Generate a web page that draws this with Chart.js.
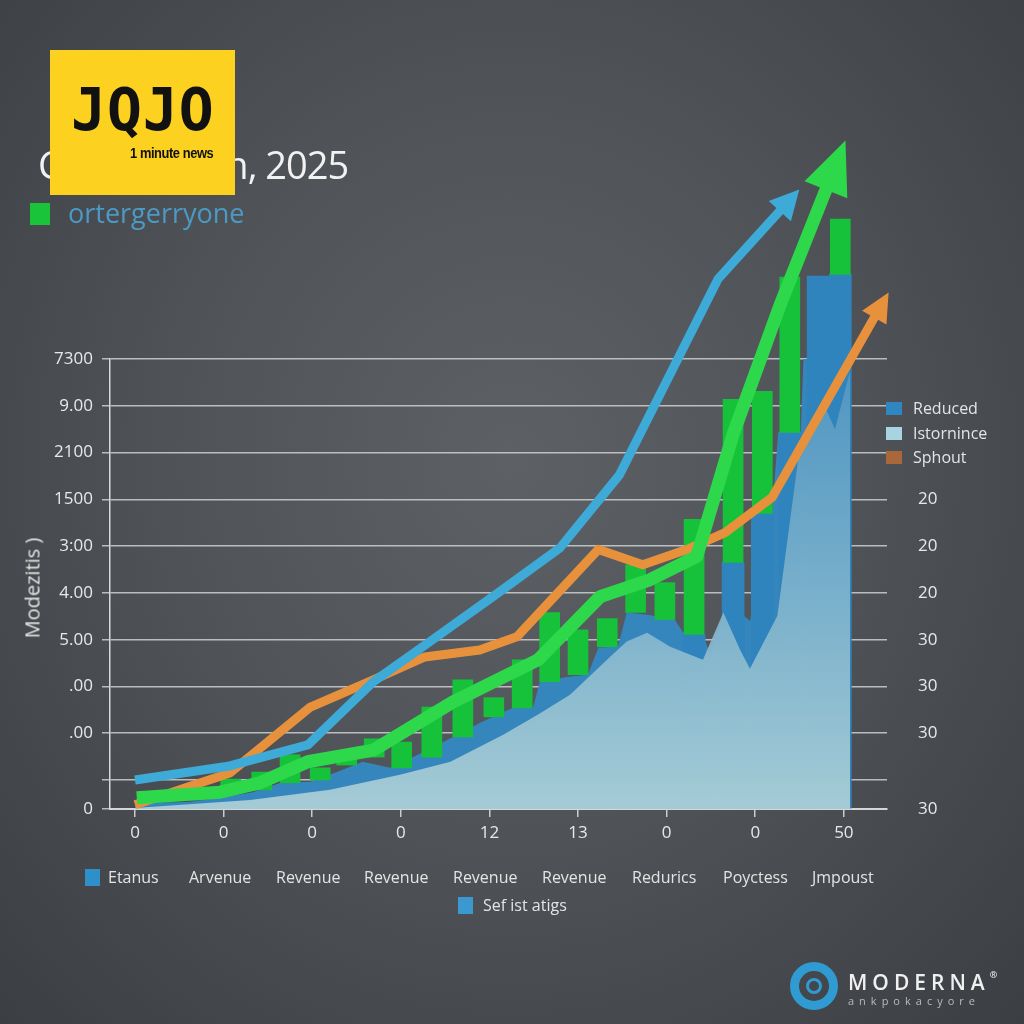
<!DOCTYPE html>
<html>
<head>
<meta charset="utf-8">
<script src="https://cdn.jsdelivr.net/npm/chart.js@4.4.1/dist/chart.umd.min.js"></script>
<style>
  html, body { margin: 0; padding: 0; }
  body {
    width: 1024px; height: 1024px; overflow: hidden; position: relative;
    background: radial-gradient(ellipse at 50% 45%, #5d6165 0%, #505458 45%, #3b3e42 100%);
    font-family: 'Open Sans', sans-serif; color: #e6e6e6;
  }
  canvas { position: absolute; left: 0; top: 0; }
  .abs { position: absolute; white-space: nowrap; }
  .sw { position: absolute; }
  .leg { position: absolute; font-size: 16px; color: #e4e4e4; line-height: 20px; white-space: nowrap; }
</style>
</head>
<body>
<canvas id="chart" width="1024" height="1024"></canvas>

<div class="abs" style="left:38px; top:142px; font-size:38px; color:#f2f2f2; line-height:44px; letter-spacing:-1px;">Cost Growth, 2025</div>

<div class="abs" style="left:50px; top:50px; width:185px; height:145px; background:#fcd11f;">
  <div class="abs" style="left:21px; top:27px; font-family:'DejaVu Sans Mono'; font-weight:bold; font-size:58px; line-height:66px; color:#111; letter-spacing:1px;">JQJO</div>
  <div class="abs" style="left:80px; top:94px; font-family:'Liberation Sans'; font-weight:bold; font-size:15px; color:#111; letter-spacing:-0.5px; transform:scaleX(0.86); transform-origin:left top;">1 minute news</div>
</div>

<div class="sw" style="left:30px; top:203px; width:20px; height:22px; background:#19c43a;"></div>
<div class="abs" style="left:68px; top:195px; font-size:27px; line-height:36px; color:#4b9ac6;">ortergerryone</div>

<div class="abs" style="left:32px; top:588px; font-size:20px; color:#e4e4e4; transform:translate(-50%,-50%) rotate(-90deg);">Modezitis )</div>

<div class="sw" style="left:886px; top:402px; width:16px; height:13px; background:#2f86c0;"></div>
<div class="leg" style="left:913px; top:398px;">Reduced</div>
<div class="sw" style="left:886px; top:427px; width:16px; height:13px; background:#a8d4e0;"></div>
<div class="leg" style="left:913px; top:423px;">Istornince</div>
<div class="sw" style="left:886px; top:451px; width:16px; height:13px; background:#a8683c;"></div>
<div class="leg" style="left:913px; top:447px;">Sphout</div>

<div class="sw" style="left:85px; top:869px; width:15px; height:17px; background:#2f8fc8;"></div>
<div class="leg" style="left:108px; top:867px;">Etanus</div>
<div class="leg" style="left:189px; top:867px;">Arvenue</div>
<div class="leg" style="left:276px; top:867px;">Revenue</div>
<div class="leg" style="left:364px; top:867px;">Revenue</div>
<div class="leg" style="left:453px; top:867px;">Revenue</div>
<div class="leg" style="left:542px; top:867px;">Revenue</div>
<div class="leg" style="left:632px; top:867px;">Redurics</div>
<div class="leg" style="left:723px; top:867px;">Poyctess</div>
<div class="leg" style="left:812px; top:867px;">Jmpoust</div>
<div class="sw" style="left:458px; top:897px; width:15px; height:17px; background:#3a9ad0;"></div>
<div class="leg" style="left:483px; top:895px;">Sef ist atigs</div>

<div class="abs" style="left:790px; top:962px; width:30px; height:30px; border:9px solid #2f9bd2; border-radius:50%;">
  <div class="abs" style="left:7px; top:7px; width:10px; height:10px; border:3px solid #2f9bd2; border-radius:50%;"></div>
</div>
<div class="abs" style="left:848px; top:968px; font-size:21px; font-weight:600; letter-spacing:5px; color:#f0f0f0;">MODERNA<span style="font-size:9px; vertical-align:top; letter-spacing:0;">®</span></div>
<div class="abs" style="left:848px; top:993px; font-size:11px; letter-spacing:5px; color:#b8bbbe;">ankpokacyore</div>

<script>
// axis ticks
const xTickValues = [0, 1, 2, 3, 4, 5, 6, 7, 8];
const xTickLabels = ['0', '0', '0', '0', '12', '13', '0', '0', '50'];
const yTickValues = [0, 62, 162, 262, 362, 462, 562, 662, 762, 862, 962];
const yTickLabels = ['0', '', '.00', '.00', '5.00', '4.00', '3:00', '1500', '2100', '9.00', '7300'];
const rightTickLabels = ['30', '', '30', '30', '30', '20', '20', '20', '', '', ''];

// lines
const blueLineX = [0, 1.07, 1.95, 2.69, 3.36, 4.12, 4.80, 5.47, 6.58, 7.30];
const blueLineY = [62, 92, 137, 272, 362, 465, 559, 715, 1133, 1283];
const orangeLineX = [0, 1.07, 1.98, 2.69, 3.27, 3.89, 4.31, 5.23, 5.73, 6.26, 6.66, 7.19, 8.36];
const orangeLineY = [9, 77, 218, 276, 325, 340, 368, 555, 522, 557, 591, 666, 1056];
const greenLineX = [0.02, 0.96, 1.41, 1.95, 2.69, 2.97, 3.59, 4.55, 5.25, 5.81, 6.34, 6.75, 7.28, 7.81];
const greenLineY = [24, 36, 56, 101, 126, 158, 229, 319, 454, 490, 540, 801, 1077, 1330];

// floating green bars
const greenBarX = [0.15, 1.08, 1.43, 1.75, 2.09, 2.39, 2.70, 3.01, 3.35, 3.70, 4.05, 4.37, 4.68, 5.00, 5.33, 5.65, 5.98, 6.31, 6.75, 7.08, 7.39, 7.96];
const greenBarLow = [15, 45, 41, 56, 62, 94, 111, 88, 111, 154, 197, 216, 272, 287, 347, 420, 405, 373, 527, 632, 805, 1143];
const greenBarHigh = [30, 64, 79, 116, 88, 122, 150, 143, 218, 276, 238, 319, 420, 383, 407, 522, 484, 619, 876, 893, 1137, 1261];

// blue bars
const blueBarX = [6.31, 6.75, 7.08, 7.39, 7.71, 7.96];
const blueBarY = [373, 527, 632, 805, 1139, 1143];

// dark blue area
const areaX = [0, 0.59, 0.96, 1.33, 1.64, 1.98, 2.28, 2.57, 2.88, 3.14, 3.59, 3.89, 4.26, 4.49, 4.57, 4.91, 5.11, 5.23, 5.45, 5.55, 5.78, 6.09, 6.19, 6.41, 6.49, 6.64, 6.87, 6.94, 7.19, 7.26, 7.51, 7.57, 8.07];
const areaY = [13, 15, 24, 36, 56, 58, 79, 101, 88, 111, 154, 184, 216, 216, 272, 283, 287, 345, 347, 420, 415, 405, 377, 373, 330, 413, 413, 402, 632, 805, 790, 1090, 1133];

// light area in front
const glowX = [0, 1.30, 2.20, 2.99, 3.56, 4.15, 4.54, 4.91, 5.36, 5.55, 5.78, 6.04, 6.41, 6.64, 6.83, 6.94, 7.25, 7.51, 7.77, 7.90, 8.07];
const glowY = [2, 19, 41, 73, 101, 158, 201, 244, 325, 358, 377, 347, 319, 420, 340, 300, 413, 784, 867, 812, 936];

const pts = (xs, ys) => xs.map((x, i) => ({ x: x, y: ys[i] }));

const arrowHeads = {
    id: 'arrowHeads',
    afterDatasetsDraw(chart) {
        const ctx = chart.ctx;
        chart.data.datasets.forEach((ds, i) => {
            if (!ds.arrow) return;
            const els = chart.getDatasetMeta(i).data;
            const a = els[els.length - 2], b = els[els.length - 1];
            const dx = b.x - a.x, dy = b.y - a.y, d = Math.hypot(dx, dy);
            const ux = dx / d, uy = dy / d;
            const L = ds.arrow.length, W = ds.arrow.width / 2;
            const bx = b.x - ux * 3, by = b.y - uy * 3;
            ctx.save();
            ctx.fillStyle = ds.borderColor;
            ctx.beginPath();
            ctx.moveTo(b.x + ux * L, b.y + uy * L);
            ctx.lineTo(bx - uy * W, by + ux * W);
            ctx.lineTo(bx + uy * W, by - ux * W);
            ctx.closePath();
            ctx.fill();
            ctx.restore();
        });
    }
};

const tickFont = { family: 'Open Sans', size: 17 };

new Chart(document.getElementById('chart'), {
    type: 'line',
    data: {
        datasets: [
            {
                label: 'Reduced',
                data: pts(areaX, areaY),
                fill: 'origin',
                backgroundColor: '#3586bd',
                borderWidth: 0,
                pointRadius: 0,
                tension: 0,
                order: 6,
                clip: false
            },
            {
                type: 'bar',
                label: 'Etanus',
                data: pts(blueBarX, blueBarY),
                backgroundColor: '#2f84be',
                barThickness: 22,
                grouped: false,
                order: 5,
                clip: false
            },
            {
                label: 'Istornince',
                data: pts(glowX, glowY),
                fill: 'origin',
                backgroundColor: (c) => {
                    const area = c.chart.chartArea;
                    if (!area) return 'rgba(120,175,200,0.9)';
                    const g = c.chart.ctx.createLinearGradient(0, area.top, 0, area.bottom);
                    g.addColorStop(0, 'rgba(84,152,194,0.85)');
                    g.addColorStop(1, 'rgba(168,205,214,0.97)');
                    return g;
                },
                borderWidth: 0,
                pointRadius: 0,
                tension: 0,
                order: 4,
                clip: false
            },
            {
                type: 'bar',
                label: 'ortergerryone',
                data: greenBarX.map((x, i) => ({ x: x, y: [greenBarLow[i], greenBarHigh[i]] })),
                backgroundColor: '#15c23a',
                barThickness: 20,
                grouped: false,
                order: 3,
                clip: false
            },
            {
                label: 'Sphout',
                data: pts(orangeLineX, orangeLineY),
                borderColor: '#e8913c',
                borderWidth: 9,
                borderJoinStyle: 'round',
                pointRadius: 0,
                tension: 0,
                fill: false,
                order: 2,
                clip: false,
                arrow: { length: 26, width: 28 }
            },
            {
                label: 'Sef ist atigs',
                data: pts(blueLineX, blueLineY),
                borderColor: '#3eaad8',
                borderWidth: 9,
                borderJoinStyle: 'round',
                pointRadius: 0,
                tension: 0,
                fill: false,
                order: 1,
                clip: false,
                arrow: { length: 26, width: 30 }
            },
            {
                label: 'Revenue',
                data: pts(greenLineX, greenLineY),
                borderColor: '#2ed84b',
                borderWidth: 13,
                borderJoinStyle: 'round',
                pointRadius: 0,
                tension: 0,
                fill: false,
                order: 0,
                clip: false,
                arrow: { length: 50, width: 46 }
            }
        ]
    },
    options: {
        responsive: false,
        animation: false,
        devicePixelRatio: 1,
        layout: { padding: { top: 359, bottom: 175, left: 0, right: 0 } },
        plugins: {
            legend: { display: false },
            tooltip: { enabled: false }
        },
        scales: {
            x: {
                type: 'linear',
                min: -0.282,
                max: 8.487,
                offset: false,
                afterBuildTicks: (s) => { s.ticks = xTickValues.map(v => ({ value: v })); },
                afterFit: (s) => { s.height = 40; },
                grid: { offset: false, drawOnChartArea: false, drawTicks: true, tickLength: 8, color: '#c9cbcd', lineWidth: 1.5 },
                border: { display: true, color: '#d4d6d8', width: 2 },
                ticks: {
                    autoSkip: false, maxRotation: 0, padding: 6, color: '#e8e8e8', font: tickFont,
                    callback: (v, i) => xTickLabels[i]
                }
            },
            y: {
                min: 0,
                max: 962,
                afterBuildTicks: (s) => { s.ticks = yTickValues.map(v => ({ value: v })); },
                afterFit: (s) => { s.width = 110; },
                grid: { color: 'rgba(214,216,218,0.8)', lineWidth: 1.5, drawTicks: true, tickLength: 8 },
                border: { display: true, color: '#d6d8da', width: 1.5 },
                ticks: {
                    autoSkip: false, padding: 9, color: '#e8e8e8', font: tickFont,
                    callback: (v, i) => yTickLabels[i]
                }
            },
            y2: {
                position: 'right',
                min: 0,
                max: 962,
                afterBuildTicks: (s) => { s.ticks = yTickValues.map(v => ({ value: v })); },
                afterFit: (s) => { s.width = 137; },
                grid: { display: false, drawTicks: false },
                border: { display: false },
                ticks: {
                    autoSkip: false, padding: 31, color: '#e8e8e8', font: tickFont,
                    callback: (v, i) => rightTickLabels[i]
                }
            }
        }
    },
    plugins: [arrowHeads]
});
</script>
</body>
</html>
